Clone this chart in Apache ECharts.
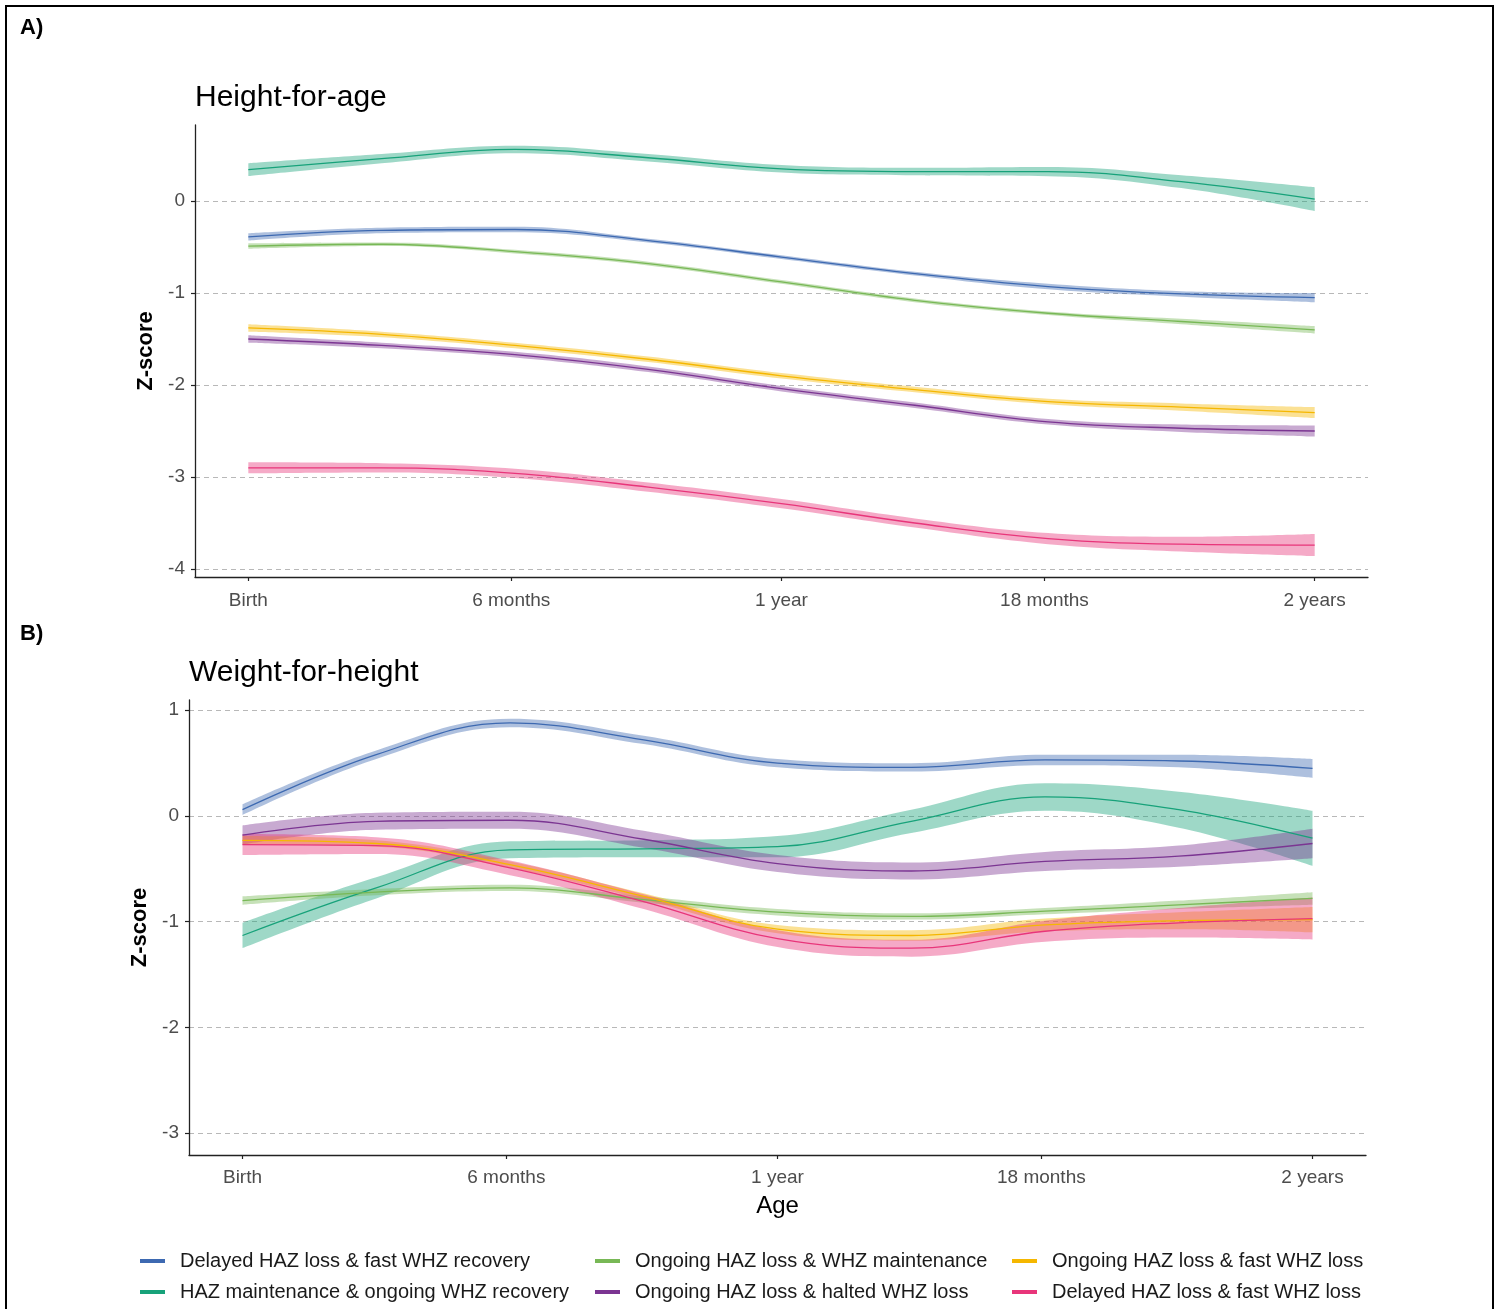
<!DOCTYPE html>
<html>
<head>
<meta charset="utf-8">
<title>Height-for-age and Weight-for-height trajectories</title>
<script src="https://cdn.jsdelivr.net/npm/echarts@6/dist/echarts.min.js"></script>
<style>
  html, body { margin: 0; padding: 0; background: #ffffff; }
  #chart { width: 1501px; height: 1309px; }
</style>
</head>
<body>
<div id="chart"></div>
<script>
// Age in months at which the fitted trajectories are sampled
const MONTHS = [0, 3, 6, 9, 12, 15, 18, 21, 24];

// Age axis ticks, placed at these ages in days
const AGE_TICK_DAYS = [0, 180, 365, 545, 730];
const AGE_LABELS = ['Birth', '6 months', '1 year', '18 months', '2 years'];
const DAYS_PER_MONTH = 730 / 24;

// Z-score axis ticks
const HAZ_TICKS = [0, -1, -2, -3, -4];
const WHZ_TICKS = [1, 0, -1, -2, -3];

// Trajectory groups
const GROUPS = [
  'Delayed HAZ loss & fast WHZ recovery',
  'HAZ maintenance & ongoing WHZ recovery',
  'Ongoing HAZ loss & WHZ maintenance',
  'Ongoing HAZ loss & halted WHZ loss',
  'Ongoing HAZ loss & fast WHZ loss',
  'Delayed HAZ loss & fast WHZ loss'
];
const COLORS = ['#3d69b1', '#17a27a', '#78b856', '#7b3592', '#f5b700', '#e8357a'];

// Height-for-age: fitted mean and half-width of the confidence band
const HAZ_DELAYED_FAST_REC = [-0.39, -0.32, -0.31, -0.43, -0.61, -0.79, -0.93, -1.01, -1.05];
const HAZ_DELAYED_FAST_REC_CI = [0.04, 0.03, 0.03, 0.02, 0.02, 0.02, 0.03, 0.03, 0.05];
const HAZ_MAINT_ONGOING_REC = [0.34, 0.46, 0.56, 0.47, 0.35, 0.32, 0.32, 0.21, 0.02];
const HAZ_MAINT_ONGOING_REC_CI = [0.07, 0.05, 0.04, 0.04, 0.04, 0.04, 0.05, 0.07, 0.13];
const HAZ_ONGOING_MAINT = [-0.49, -0.47, -0.55, -0.68, -0.88, -1.08, -1.22, -1.31, -1.40];
const HAZ_ONGOING_MAINT_CI = [0.03, 0.02, 0.02, 0.02, 0.02, 0.02, 0.02, 0.03, 0.04];
const HAZ_ONGOING_HALTED = [-1.50, -1.57, -1.67, -1.83, -2.04, -2.22, -2.40, -2.47, -2.50];
const HAZ_ONGOING_HALTED_CI = [0.04, 0.03, 0.03, 0.03, 0.03, 0.03, 0.03, 0.04, 0.06];
const HAZ_ONGOING_FAST_LOSS = [-1.38, -1.45, -1.57, -1.72, -1.90, -2.05, -2.18, -2.24, -2.30];
const HAZ_ONGOING_FAST_LOSS_CI = [0.04, 0.03, 0.03, 0.03, 0.03, 0.03, 0.03, 0.04, 0.06];
const HAZ_DELAYED_FAST_LOSS = [-2.90, -2.90, -2.96, -3.11, -3.29, -3.50, -3.67, -3.73, -3.74];
const HAZ_DELAYED_FAST_LOSS_CI = [0.06, 0.05, 0.05, 0.05, 0.05, 0.05, 0.06, 0.08, 0.12];

// Weight-for-height: fitted mean and half-width of the confidence band
const WHZ_DELAYED_FAST_REC = [0.06, 0.58, 0.88, 0.72, 0.50, 0.46, 0.53, 0.52, 0.45];
const WHZ_DELAYED_FAST_REC_CI = [0.05, 0.04, 0.04, 0.04, 0.04, 0.04, 0.05, 0.06, 0.09];
const WHZ_MAINT_ONGOING_REC = [-1.13, -0.68, -0.32, -0.31, -0.29, -0.05, 0.18, 0.06, -0.21];
const WHZ_MAINT_ONGOING_REC_CI = [0.12, 0.10, 0.08, 0.08, 0.10, 0.11, 0.13, 0.17, 0.26];
const WHZ_ONGOING_MAINT = [-0.80, -0.72, -0.68, -0.79, -0.91, -0.95, -0.90, -0.84, -0.78];
const WHZ_ONGOING_MAINT_CI = [0.04, 0.03, 0.03, 0.03, 0.03, 0.03, 0.03, 0.04, 0.06];
const WHZ_ONGOING_HALTED = [-0.18, -0.05, -0.04, -0.22, -0.45, -0.52, -0.43, -0.38, -0.26];
const WHZ_ONGOING_HALTED_CI = [0.09, 0.08, 0.08, 0.08, 0.08, 0.08, 0.09, 0.10, 0.14];
const WHZ_ONGOING_FAST_LOSS = [-0.23, -0.26, -0.46, -0.76, -1.07, -1.13, -1.03, -0.99, -0.98];
const WHZ_ONGOING_FAST_LOSS_CI = [0.04, 0.03, 0.03, 0.03, 0.04, 0.05, 0.06, 0.08, 0.12];
const WHZ_DELAYED_FAST_LOSS = [-0.27, -0.28, -0.49, -0.81, -1.16, -1.25, -1.09, -1.01, -0.97];
const WHZ_DELAYED_FAST_LOSS_CI = [0.10, 0.08, 0.07, 0.07, 0.08, 0.08, 0.10, 0.14, 0.20];

const HAZ_SERIES = [
  [HAZ_DELAYED_FAST_REC, HAZ_DELAYED_FAST_REC_CI],
  [HAZ_MAINT_ONGOING_REC, HAZ_MAINT_ONGOING_REC_CI],
  [HAZ_ONGOING_MAINT, HAZ_ONGOING_MAINT_CI],
  [HAZ_ONGOING_HALTED, HAZ_ONGOING_HALTED_CI],
  [HAZ_ONGOING_FAST_LOSS, HAZ_ONGOING_FAST_LOSS_CI],
  [HAZ_DELAYED_FAST_LOSS, HAZ_DELAYED_FAST_LOSS_CI]
];
const WHZ_SERIES = [
  [WHZ_DELAYED_FAST_REC, WHZ_DELAYED_FAST_REC_CI],
  [WHZ_MAINT_ONGOING_REC, WHZ_MAINT_ONGOING_REC_CI],
  [WHZ_ONGOING_MAINT, WHZ_ONGOING_MAINT_CI],
  [WHZ_ONGOING_HALTED, WHZ_ONGOING_HALTED_CI],
  [WHZ_ONGOING_FAST_LOSS, WHZ_ONGOING_FAST_LOSS_CI],
  [WHZ_DELAYED_FAST_LOSS, WHZ_DELAYED_FAST_LOSS_CI]
];

const FONT = '"Liberation Sans", Arial, sans-serif';
const SMOOTH = 0.4;
const AGE_TICKS = AGE_TICK_DAYS.map(d => d / DAYS_PER_MONTH);

function hexToRgba(hex, a) {
  const n = parseInt(hex.slice(1), 16);
  return 'rgba(' + ((n >> 16) & 255) + ',' + ((n >> 8) & 255) + ',' + (n & 255) + ',' + a + ')';
}

// Rows are [value, month] so that stacking runs along the Z-score dimension.
function rows(values) {
  return values.map((v, i) => [v, MONTHS[i]]);
}

function panelSeries(panelIndex, list) {
  const out = [];
  list.forEach(([mean, ci], g) => {
    const lo = mean.map((m, i) => +(m - ci[i]).toFixed(3));
    const width = ci.map(c => +(2 * c).toFixed(3));
    const stack = 'band-' + panelIndex + '-' + g;
    const common = {
      type: 'line',
      xAxisIndex: panelIndex,
      yAxisIndex: panelIndex,
      encode: { x: 1, y: 0 },
      smooth: SMOOTH,
      symbol: 'none',
      silent: true,
      animation: false
    };
    out.push(Object.assign({}, common, {
      stack: stack, stackStrategy: 'all',
      data: rows(lo),
      lineStyle: { opacity: 0 },
      z: 1
    }));
    out.push(Object.assign({}, common, {
      stack: stack, stackStrategy: 'all',
      data: rows(width),
      lineStyle: { opacity: 0 },
      areaStyle: { color: hexToRgba(COLORS[g], 0.42), opacity: 1 },
      z: 1
    }));
  });
  list.forEach(([mean], g) => {
    out.push({
      type: 'line',
      name: GROUPS[g],
      xAxisIndex: panelIndex,
      yAxisIndex: panelIndex,
      encode: { x: 1, y: 0 },
      data: rows(mean),
      smooth: SMOOTH,
      symbol: 'none',
      color: COLORS[g],
      lineStyle: { color: COLORS[g], width: 1.3 },
      z: 3,
      animation: false
    });
  });
  return out;
}

function tickLabel(v) {
  let best = 0;
  AGE_TICKS.forEach((t, i) => { if (Math.abs(t - v) < Math.abs(AGE_TICKS[best] - v)) best = i; });
  return AGE_LABELS[best];
}

function ageAxis(gridIndex, withName, margin) {
  const ax = {
    type: 'value',
    gridIndex: gridIndex,
    min: -1.2,
    max: 25.2,
    axisLine: { show: true, onZero: false, lineStyle: { color: '#222', width: 1.3 } },
    axisTick: { show: true, length: 4, customValues: AGE_TICKS, lineStyle: { color: '#222', width: 1.2 } },
    axisLabel: {
      customValues: AGE_TICKS,
      margin: margin,
      fontFamily: FONT, fontSize: 19, color: '#4d4d4d',
      formatter: tickLabel
    },
    splitLine: { show: false }
  };
  if (withName) {
    Object.assign(ax, {
      name: 'Age', nameLocation: 'middle', nameGap: 39,
      nameTextStyle: { fontFamily: FONT, fontSize: 24, color: '#000' }
    });
  }
  return ax;
}

function zAxis(gridIndex, min, max, ticks) {
  return {
    type: 'value',
    gridIndex: gridIndex,
    min: min,
    max: max,
    name: 'Z-score', nameLocation: 'middle', nameGap: 37,
    nameTextStyle: { fontFamily: FONT, fontSize: 22, fontWeight: 'bold', color: '#000' },
    axisLine: { show: true, onZero: false, lineStyle: { color: '#222', width: 1.3 } },
    axisTick: { show: true, length: 4, customValues: ticks, lineStyle: { color: '#222', width: 1.2 } },
    axisLabel: { customValues: ticks, margin: 10, fontFamily: FONT, fontSize: 19, color: '#4d4d4d' },
    splitLine: { show: true, lineStyle: { color: '#b8b8b8', width: 1, type: [5, 4] } }
  };
}

function legendBlock(left, names) {
  return {
    left: left, top: 1251, orient: 'vertical',
    height: 80, padding: 0,
    data: names,
    itemWidth: 25, itemHeight: 4, itemGap: 11,
    icon: 'rect',
    selectedMode: false,
    textStyle: { fontFamily: FONT, fontSize: 20, color: '#1a1a1a', lineHeight: 20, padding: [0, 0, 0, 10] }
  };
}

const chart = echarts.init(document.getElementById('chart'), null, { renderer: 'canvas' });

chart.setOption({
  backgroundColor: '#ffffff',
  animation: false,
  title: [
    { text: 'Height-for-age', left: 190, top: 78, textStyle: { fontFamily: FONT, fontSize: 30, fontWeight: 'normal', color: '#000' } },
    { text: 'Weight-for-height', left: 184, top: 653, textStyle: { fontFamily: FONT, fontSize: 30, fontWeight: 'normal', color: '#000' } },
    { text: 'A)', left: 15, top: 12, textStyle: { fontFamily: FONT, fontSize: 22, fontWeight: 'bold', color: '#000' } },
    { text: 'B)', left: 15, top: 618, textStyle: { fontFamily: FONT, fontSize: 22, fontWeight: 'bold', color: '#000' } }
  ],
  graphic: [
    {
      type: 'rect', silent: true, z: 100,
      shape: { x: 6, y: 6, width: 1487, height: 1320 },
      style: { fill: null, stroke: '#000', lineWidth: 2 }
    }
  ],
  legend: [
    legendBlock(140, [GROUPS[0], GROUPS[1]]),
    legendBlock(595, [GROUPS[2], GROUPS[3]]),
    legendBlock(1012, [GROUPS[4], GROUPS[5]])
  ],
  grid: [
    { left: 195, top: 125, width: 1173, height: 452, containLabel: false },
    { left: 189, top: 700, width: 1177, height: 455, containLabel: false }
  ],
  xAxis: [ageAxis(0, false, 14), ageAxis(1, true, 13)],
  yAxis: [
    zAxis(0, -4.087, 0.826, HAZ_TICKS),
    zAxis(1, -3.206, 1.097, WHZ_TICKS)
  ],
  series: panelSeries(0, HAZ_SERIES).concat(panelSeries(1, WHZ_SERIES))
});
</script>
</body>
</html>
